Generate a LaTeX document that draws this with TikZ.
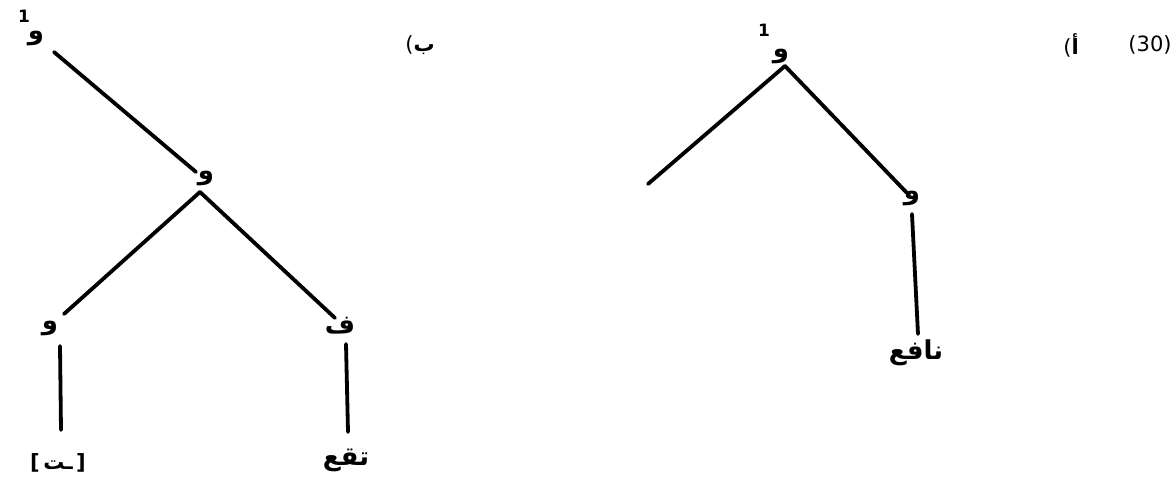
\documentclass[tikz,border=0pt]{standalone}
\usepackage{fontspec}
\setmainfont{DejaVu Sans}
\newfontfamily\arabicfont[Script=Arabic]{DejaVu Sans}
\TeXXeTstate=1
\begin{document}
\begin{tikzpicture}[x=1pt,y=-1pt,
  lab/.style={inner sep=0pt,font=\arabicfont\bfseries\fontsize{26}{30}\selectfont},
  sup/.style={inner sep=0pt,font=\fontsize{17}{20}\selectfont\bfseries},
  num/.style={inner sep=0pt,font=\fontsize{21}{25}\selectfont},
  edge/.style={line width=3.8pt,line cap=round}]
\useasboundingbox (0,0) rectangle (1176,495);
% left tree (b)
\node[sup] (s1) at (24,16) {1};
\node[lab] (r1) at (36,38) {و};
\node[lab] (m1) at (206,178) {و};
\node[lab] (l1) at (50,328) {و};
\node[lab] (f1) at (340,326) {ف};
\node[num] (t1) at (58,463) {\bfseries[\,{\arabicfont\beginR ـت\endR}\,]};
\node[lab] (n1) at (346,460) {\beginR تقع\endR};
\node[num] (b) at (420,45) {(\arabicfont\bfseries ب};
\coordinate (r1e) at (54,52);
\coordinate (m1a) at (196,172);
\coordinate (m1b) at (200,192);
\draw[edge] (r1e) -- (m1a);
\draw[edge] (m1b) -- (64,314);
\draw[edge] (m1b) -- (335,318);
\draw[edge] (60,346) -- (61,430);
\draw[edge] (346,344) -- (348,432);
% right tree (a)
\node[sup] (s2) at (764,30) {1};
\node[lab] (r2) at (781,56) {و};
\node[lab] (m2) at (912,198) {و};
\node[lab] (n2) at (916,353) {\beginR نافع\endR};
\node[num] (a) at (1071,45) {(\arabicfont\bfseries أ};
\node[num] (c) at (1150,45) {(30)};
\coordinate (r2b) at (785,66);
\draw[edge] (r2b) -- (648,184);
\draw[edge] (r2b) -- (907,193);
\draw[edge] (912,214) -- (918,334);
\end{tikzpicture}
\end{document}
